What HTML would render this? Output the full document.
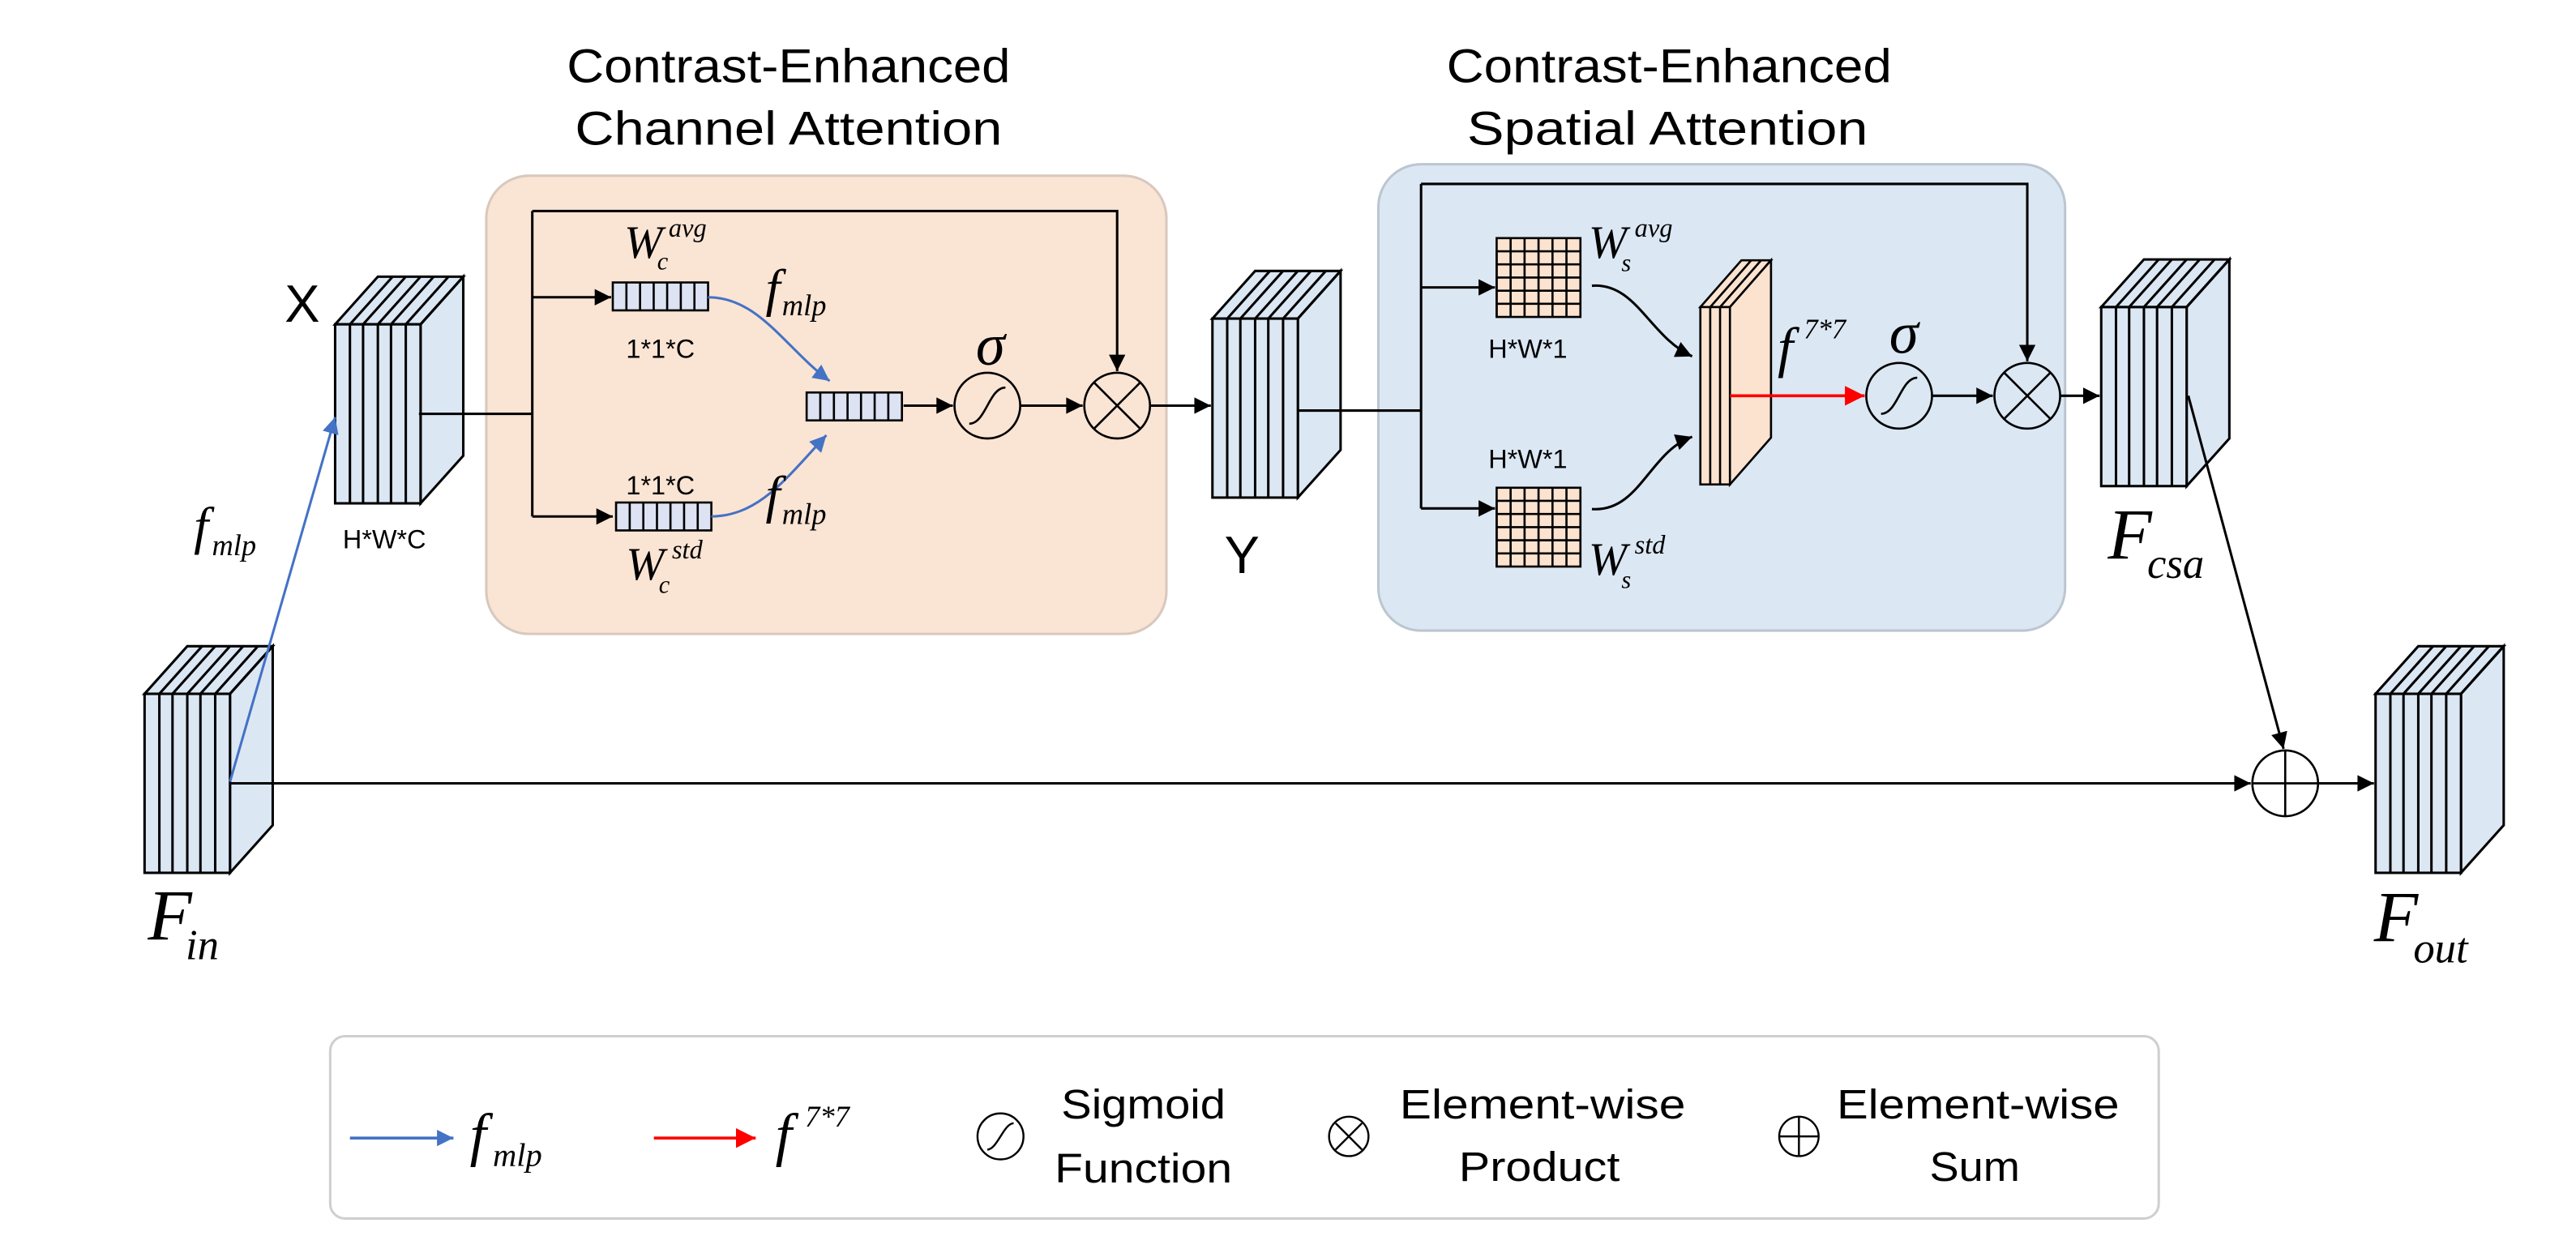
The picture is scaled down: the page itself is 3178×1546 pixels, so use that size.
<!DOCTYPE html>
<html><head><meta charset="utf-8"><style>
html,body{margin:0;padding:0;background:#fff;}
svg{display:block;}
.s{font-family:"Liberation Sans",sans-serif;}
.i{font-family:"Liberation Serif",serif;font-style:italic;}
</style></head><body>
<svg width="3178" height="1546" viewBox="0 0 1568 763" preserveAspectRatio="none" xmlns="http://www.w3.org/2000/svg">
<defs>
<marker id="ab" viewBox="0 0 10 10" refX="10" refY="5" markerWidth="11" markerHeight="10" markerUnits="userSpaceOnUse" orient="auto"><path d="M0,0 L10,5 L0,10 z" fill="#000"/></marker>
<marker id="abl" viewBox="0 0 10 10" refX="10" refY="5" markerWidth="11" markerHeight="10" markerUnits="userSpaceOnUse" orient="auto"><path d="M0,0 L10,5 L0,10 z" fill="#4472c4"/></marker>
<marker id="ar" viewBox="0 0 10 10" refX="10" refY="5" markerWidth="12" markerHeight="12" markerUnits="userSpaceOnUse" orient="auto"><path d="M0,0 L10,5 L0,10 z" fill="#f00"/></marker>
<g id="cube" stroke="#000" stroke-width="1.5" fill="#dce7f4">
<polygon points="0,0 26,-29 78,-29 52,0"/>
<polygon points="52,0 78,-29 78,80 52,109"/>
<rect x="0" y="0" width="52" height="109"/>
<path d="M9,0V109M17,0V109M26,0V109M34,0V109M43,0V109M9,0L35,-29M17,0L43,-29M26,0L52,-29M34,0L60,-29M43,0L69,-29M52,0L78,-29" fill="none"/>
</g>
<g id="vec" stroke="#000" stroke-width="1.3" fill="#dde3f3">
<rect x="0" y="0" width="58" height="17"/>
<path d="M8.3,0V17M16.6,0V17M24.9,0V17M33.1,0V17M41.4,0V17M49.7,0V17" fill="none"/>
</g>
<g id="grid" stroke="#000" stroke-width="1.3" fill="#fbe3d0">
<rect x="0" y="0" width="51" height="48"/>
<path d="M8.5,0V48M17,0V48M25.5,0V48M34,0V48M42.5,0V48M0,8V48M0,8H51M0,16H51M0,24H51M0,32H51M0,40H51" fill="none"/>
</g>
<g id="sig" fill="none" stroke="#000" stroke-width="1.3"><circle r="20" fill="none"/><path d="M-11,11 C-1,11 1,-11 11,-11"/></g>
<g id="otimes" fill="none" stroke="#000" stroke-width="1.3"><circle r="20"/><path d="M-14,-14L14,14M-14,14L14,-14"/></g>
</defs>

<text class="s" x="480" y="50" font-size="29" text-anchor="middle" textLength="270" lengthAdjust="spacingAndGlyphs">Contrast-Enhanced</text>
<text class="s" x="480" y="88" font-size="29" text-anchor="middle" textLength="260" lengthAdjust="spacingAndGlyphs">Channel Attention</text>
<text class="s" x="1016" y="50" font-size="29" text-anchor="middle" textLength="271" lengthAdjust="spacingAndGlyphs">Contrast-Enhanced</text>
<text class="s" x="1015" y="88" font-size="29" text-anchor="middle" textLength="244" lengthAdjust="spacingAndGlyphs">Spatial Attention</text>

<rect x="296" y="107" width="414" height="279" rx="26" fill="#fae4d4" stroke="#d8c8be" stroke-width="1.5"/>
<rect x="839" y="100" width="418" height="284" rx="26" fill="#dbe7f3" stroke="#bcc6d0" stroke-width="1.5"/>

<use href="#cube" x="88" y="422.5"/>
<use href="#cube" x="204" y="197.5"/>
<use href="#cube" x="738" y="194"/>
<use href="#cube" x="1279" y="187"/>
<use href="#cube" x="1446" y="422.5"/>

<g fill="none" stroke="#000" stroke-width="1.5">
<path d="M255,252H324M324,128.5V314.5"/>
<path d="M324,128.5H680V226" marker-end="url(#ab)"/>
<path d="M324,181H372" marker-end="url(#ab)"/>
<path d="M324,314.5H373" marker-end="url(#ab)"/>
<path d="M550,247H580" marker-end="url(#ab)"/>
<path d="M621,247H659" marker-end="url(#ab)"/>
<path d="M700,247H737" marker-end="url(#ab)"/>
</g>
<use href="#vec" x="373" y="172"/>
<use href="#vec" x="375" y="306"/>
<use href="#vec" x="491" y="239"/>
<g fill="none" stroke="#4472c4" stroke-width="1.5">
<path d="M431,181 C462,181 478,212 505,232" marker-end="url(#abl)"/>
<path d="M433,314.5 C462,314 478,292 503,265" marker-end="url(#abl)"/>
<path d="M140,476 L204,254" marker-end="url(#abl)"/>
</g>
<use href="#sig" x="601" y="247"/>
<use href="#otimes" x="680" y="247"/>

<g fill="none" stroke="#000" stroke-width="1.5">
<path d="M790,250H865M865,112V309.6"/>
<path d="M865,112H1234V220" marker-end="url(#ab)"/>
<path d="M865,175H910" marker-end="url(#ab)"/>
<path d="M865,309.6H910" marker-end="url(#ab)"/>
<path d="M969,174 C996,172 1004,205 1030,217" marker-end="url(#ab)"/>
<path d="M969,310 C998,312 1004,275 1030,266" marker-end="url(#ab)"/>
<path d="M1176,241H1213" marker-end="url(#ab)"/>
<path d="M1254,241H1278" marker-end="url(#ab)"/>
<path d="M1332,241L1390,456" marker-end="url(#ab)"/>
<path d="M140,477H1370" marker-end="url(#ab)"/>
<path d="M1411,477H1445" marker-end="url(#ab)"/>
</g>
<use href="#grid" x="911" y="145"/>
<use href="#grid" x="911" y="297"/>
<g stroke="#000" stroke-width="1.3" fill="#fbe3d0">
<polygon points="1035,187 1060,158.5 1078,158.5 1053,187"/>
<polygon points="1053,187 1078,158.5 1078,266.5 1053,295"/>
<rect x="1035" y="187" width="18" height="108"/>
<path d="M1041,187V295M1047,187V295M1041,187L1066,158.5M1047,187L1072,158.5" fill="none"/>
</g>
<path d="M1053,241H1135" stroke="#f00" stroke-width="1.8" fill="none" marker-end="url(#ar)"/>
<use href="#sig" x="1156" y="241"/>
<use href="#otimes" x="1234" y="241"/>
<g fill="none" stroke="#000" stroke-width="1.3"><circle cx="1391" cy="477" r="20"/><path d="M1371,477H1411M1391,457V497"/></g>

<text class="s" x="184" y="196" font-size="32" text-anchor="middle">X</text>
<text class="s" x="756" y="349" font-size="32" text-anchor="middle">Y</text>
<text class="s" x="234" y="334" font-size="16" text-anchor="middle">H*W*C</text>
<text class="s" x="402" y="218" font-size="16" text-anchor="middle">1*1*C</text>
<text class="s" x="402" y="301" font-size="16" text-anchor="middle">1*1*C</text>
<text class="s" x="930" y="218" font-size="16" text-anchor="middle">H*W*1</text>
<text class="s" x="930" y="285" font-size="16" text-anchor="middle">H*W*1</text>

<g class="i">
<text x="380" y="157" font-size="28">W</text><text x="407" y="144" font-size="16">avg</text><text x="400" y="164" font-size="15">c</text>
<text x="381" y="353" font-size="28">W</text><text x="409" y="340" font-size="16">std</text><text x="401" y="361" font-size="15">c</text>
<text x="967" y="157" font-size="28">W</text><text x="995" y="144" font-size="16">avg</text><text x="987" y="165" font-size="15">s</text>
<text x="967" y="350" font-size="28">W</text><text x="995" y="337" font-size="16">std</text><text x="987" y="358" font-size="15">s</text>
<text x="466" y="186" font-size="32">f</text><text x="476" y="192" font-size="18">mlp</text>
<text x="466" y="312" font-size="32">f</text><text x="476" y="319" font-size="18">mlp</text>
<text x="118" y="331" font-size="32">f</text><text x="129" y="338" font-size="18">mlp</text>
<text x="1082" y="223" font-size="34">f</text><text x="1098" y="206" font-size="17">7*7</text>
<text x="594" y="222" font-size="36">σ</text>
<text x="1150" y="215" font-size="36">σ</text>
<text x="90" y="572" font-size="44">F</text><text x="113" y="584" font-size="26">in</text>
<text x="1283" y="340" font-size="44">F</text><text x="1307" y="352" font-size="26">csa</text>
<text x="1445" y="573" font-size="44">F</text><text x="1469" y="586" font-size="26">out</text>
</g>

<rect x="201" y="631" width="1113" height="111" rx="9" fill="#fff" stroke="#cfcfcf" stroke-width="1.5"/>
<path d="M213,693H276" stroke="#4472c4" stroke-width="1.8" marker-end="url(#abl)"/>
<path d="M398,693H460" stroke="#f00" stroke-width="1.8" marker-end="url(#ar)"/>
<text class="i" x="286" y="703" font-size="36">f</text><text class="i" x="300" y="710" font-size="20">mlp</text>
<text class="i" x="472" y="703" font-size="36">f</text><text class="i" x="490" y="686" font-size="18">7*7</text>
<g fill="none" stroke="#000" stroke-width="1.2">
<circle cx="609" cy="692" r="14"/><path d="M601,700 C607,700 611,684 617,684"/>
<circle cx="821" cy="692" r="12"/><path d="M813,684L829,700M813,700L829,684"/>
<circle cx="1095" cy="692" r="12"/><path d="M1083,692H1107M1095,680V704"/>
</g>
<g class="s" font-size="25" text-anchor="middle">
<text x="696" y="681" textLength="100" lengthAdjust="spacingAndGlyphs">Sigmoid</text>
<text x="696" y="720" textLength="108" lengthAdjust="spacingAndGlyphs">Function</text>
<text x="939" y="681" textLength="174" lengthAdjust="spacingAndGlyphs">Element-wise</text>
<text x="937" y="719" textLength="98" lengthAdjust="spacingAndGlyphs">Product</text>
<text x="1204" y="681" textLength="172" lengthAdjust="spacingAndGlyphs">Element-wise</text>
<text x="1202" y="719" textLength="55" lengthAdjust="spacingAndGlyphs">Sum</text>
</g>
</svg>
</body></html>
